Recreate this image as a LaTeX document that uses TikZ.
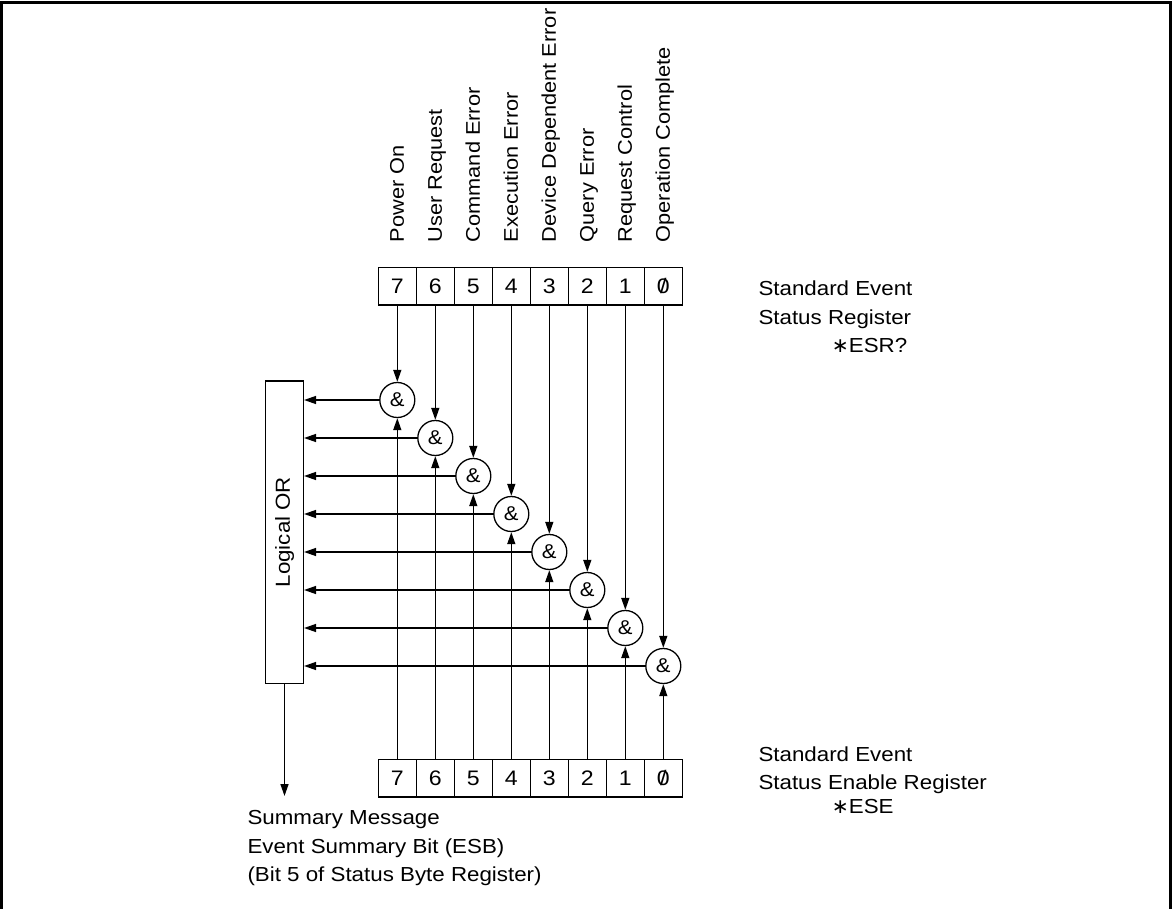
\documentclass[tikz,border=0pt]{standalone}
\usepackage{fontspec}
\setmainfont[FakeStretch=1.1]{Liberation Sans}
\newfontfamily\djv{DejaVu Sans}
\usetikzlibrary{arrows.meta}
\newcommand\zsl{\ooalign{0\cr\hidewidth/\hidewidth\cr}}
\newcommand\myast{{\djv ∗}}
\begin{document}
\begin{tikzpicture}[x=1pt,y=-1pt,
  every node/.style={font=\fontsize{20.3}{24}\selectfont, inner sep=0pt},
  cell/.style={draw, line width=1.5pt, minimum width=38pt, minimum height=37.7pt, font=\fontsize{21}{24}\selectfont},
  gate/.style={draw, circle, line width=1.3pt, minimum size=35pt, font=\fontsize{20}{22}\selectfont},
  conn/.style={line width=1.4pt, -{Triangle[length=12pt,width=8pt]}},
  lbl/.style={anchor=base west},
  vlab/.style={rotate=90, anchor=west, text height=14pt, text depth=4pt, font=\fontsize{19.8}{24}\selectfont}]
\useasboundingbox (0,0) rectangle (1172,909);
% frame
\draw[line width=2.7pt] (1.3,930) -- (1.3,2.3) -- (1170.7,2.3) -- (1170.7,930);
% registers and gates
\foreach \i/\t in {0/7,1/6,2/5,3/4,4/3,5/2,6/1,7/\zsl}{
  \node[cell] (t\i) at (397.3+38*\i,286.2) {\t};
  \node[cell] (b\i) at (397.3+38*\i,778.3) {\t};
  \node[gate] (g\i) at (397.3+38*\i,400+38*\i) {\&};
}
% rotated labels
\foreach \i/\s in {0/Power On,1/User Request,2/Command Error,3/Execution Error,4/Device Dependent Error,5/Query Error,6/Request Control,7/Operation Complete}{
  \node[vlab] (l\i) at (398.8+38*\i,242.5) {\s};
}
% logical OR
\node[draw, line width=1.5pt, minimum width=37.6pt, minimum height=302.3pt] (or) at (284.5,532.1) {\rotatebox{90}{Logical OR}};
\coordinate (sm) at (284.5,796);
% connectors
\foreach \i in {0,...,7}{
  \draw[conn] (t\i) -- (g\i);
  \draw[conn] (b\i) -- (g\i);
  \draw[conn] (g\i) -- (g\i -| or.east);
}
\draw[conn] (or) -- (sm);
% texts
\node[lbl] (ser1) at (758.3,295) {Standard Event};
\node[lbl] (ser2) at (758.3,324) {Status Register};
\node[lbl] (ser3) at (831.7,352) {\myast ESR?};
\node[lbl] (see1) at (758.3,761) {Standard Event};
\node[lbl] (see2) at (758.3,789) {Status Enable Register};
\node[lbl] (see3) at (831.7,813) {\myast ESE};
\node[lbl] (sum1) at (247.3,824) {Summary Message};
\node[lbl] (sum2) at (247.3,853) {Event Summary Bit (ESB)};
\node[lbl] (sum3) at (247.3,881.7) {(Bit 5 of Status Byte Register)};
\end{tikzpicture}
\end{document}
